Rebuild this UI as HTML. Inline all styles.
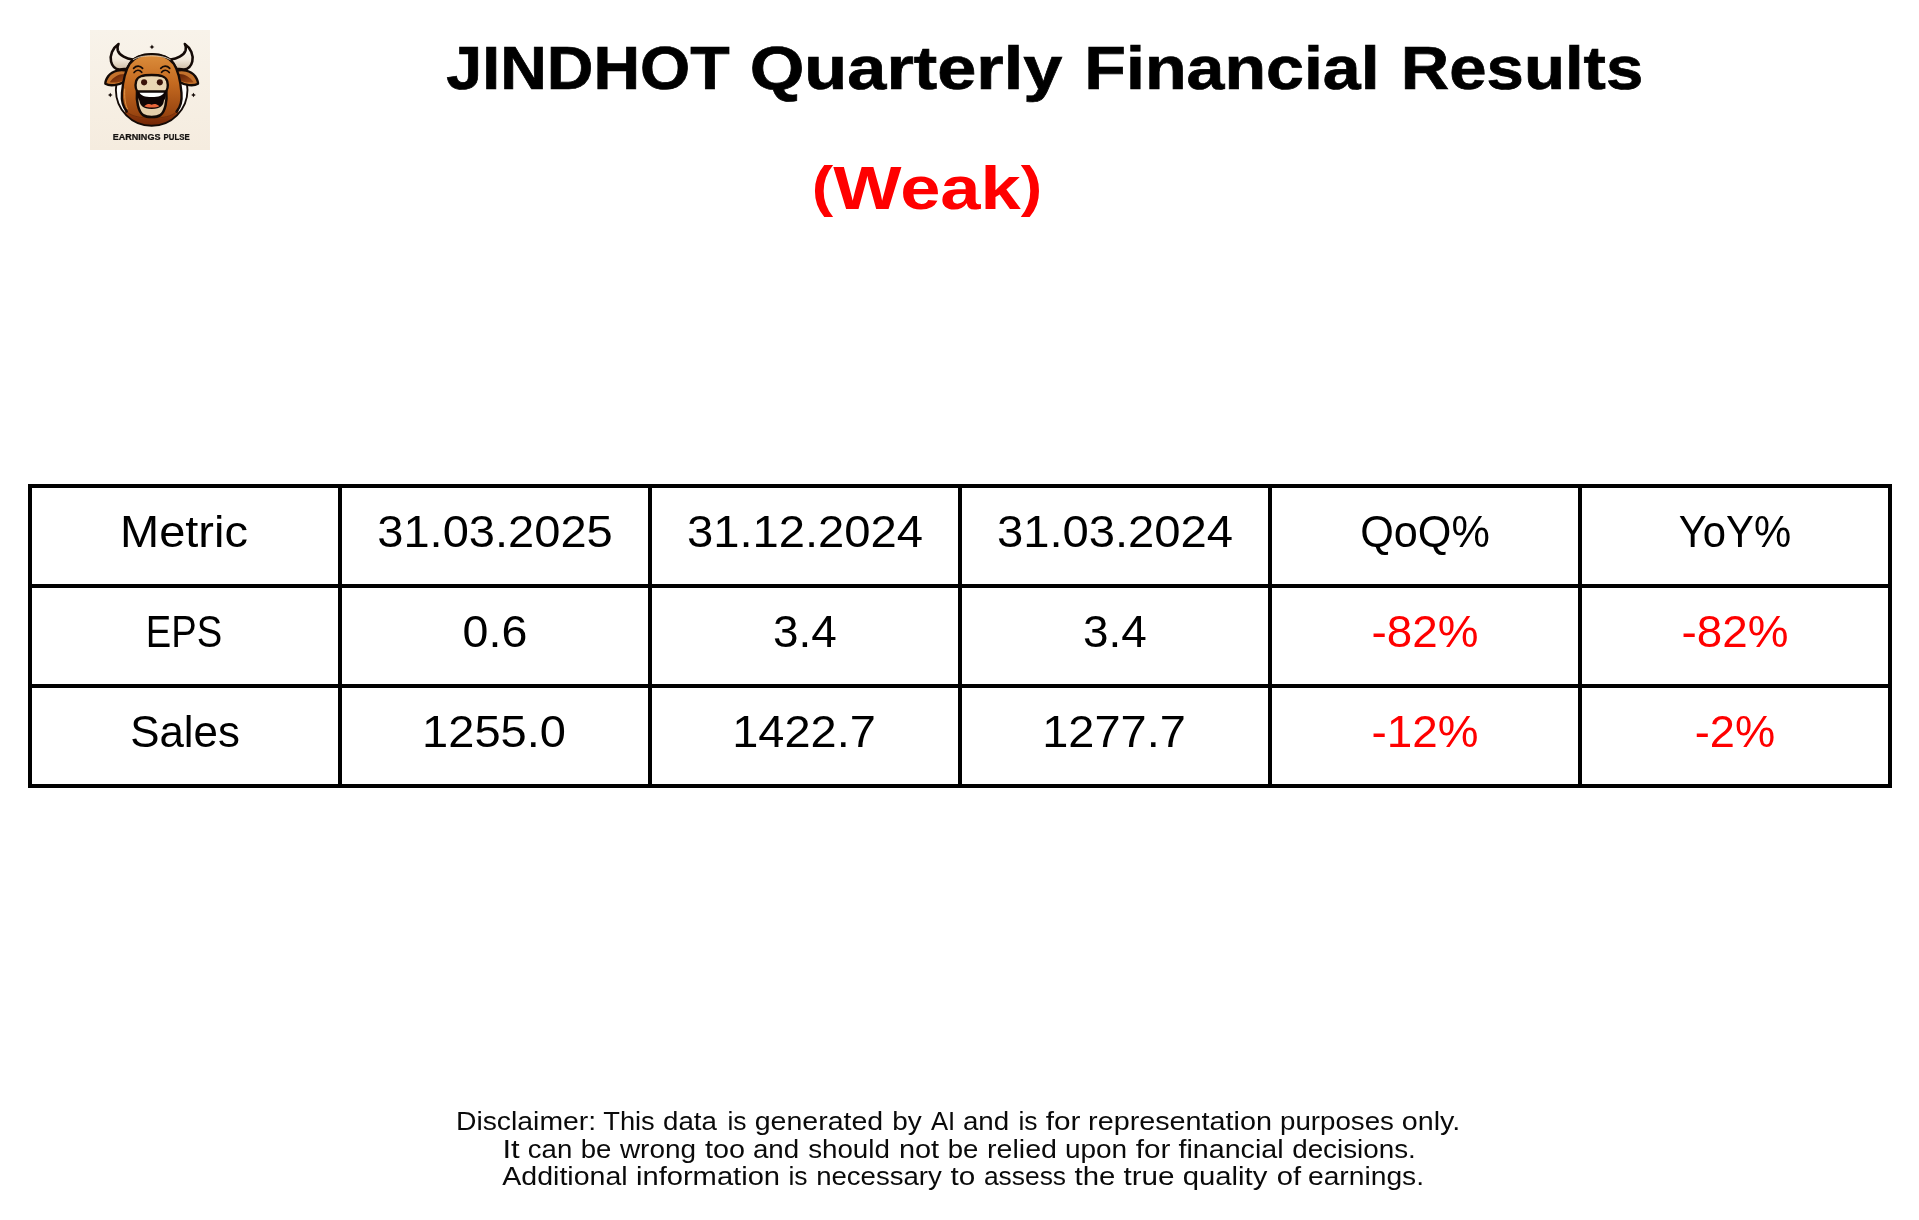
<!DOCTYPE html>
<html>
<head>
<meta charset="utf-8">
<title>JINDHOT Quarterly Financial Results</title>
<style>
html,body{margin:0;padding:0;background:#fff;}
body{width:1919px;height:1220px;position:relative;overflow:hidden;font-family:"Liberation Sans",sans-serif;color:#000;}
.t{position:absolute;white-space:nowrap;line-height:1;}
.b{font-weight:bold;}
.r{color:#ff0000;}
.tw{-webkit-text-stroke:0.7px #000;}
.dw{color:#0a0a0a;}
.pa{font-size:0.89em;position:relative;top:-4.5px;}
</style>
</head>
<body>
<svg id="logo" width="120" height="120" viewBox="0 0 1220 1220" style="position:absolute;left:90px;top:30px;transform:translateZ(0)">
<defs>
<linearGradient id="bg" x1="0" y1="0" x2="0" y2="1"><stop offset="0" stop-color="#f8f3ea"/><stop offset="1" stop-color="#f5ecdf"/></linearGradient>
<linearGradient id="fur" x1="0" y1="0" x2="0" y2="1"><stop offset="0" stop-color="#dc8e3c"/><stop offset="0.45" stop-color="#c46a20"/><stop offset="1" stop-color="#93400e"/></linearGradient>
<linearGradient id="neck" x1="0" y1="0" x2="0" y2="1"><stop offset="0" stop-color="#a84c12"/><stop offset="1" stop-color="#6c2206"/></linearGradient>
<linearGradient id="horn" x1="0" y1="0" x2="0" y2="1"><stop offset="0" stop-color="#fffdf8"/><stop offset="0.6" stop-color="#f3eadc"/><stop offset="1" stop-color="#cdbba3"/></linearGradient>
<linearGradient id="earin" x1="0" y1="0" x2="1" y2="1"><stop offset="0" stop-color="#5a1e06"/><stop offset="1" stop-color="#a44c14"/></linearGradient>
<clipPath id="ringclip"><circle cx="627" cy="610" r="364"/></clipPath>
</defs>
<rect width="1220" height="1220" fill="url(#bg)"/>
<circle cx="627" cy="610" r="364" fill="#fefdfb"/>
<path d="M345 735 L372 1000 L882 1000 L909 735 Z" fill="url(#neck)" clip-path="url(#ringclip)"/>
<circle cx="627" cy="610" r="364" fill="none" stroke="#140a06" stroke-width="19"/>
<!-- horns -->
<path d="M290 142 C 229 182, 199 260, 214 320 C 226 370, 259 398, 299 402 L 374 395 L 434 300 C 374 292, 299 262, 282 207 C 276 182, 279 162, 290 142 Z" fill="url(#horn)" stroke="#140a06" stroke-width="26" stroke-linejoin="round"/>
<path d="M964 142 C 1025 182, 1055 260, 1040 320 C 1028 370, 995 398, 955 402 L 880 395 L 820 300 C 880 292, 955 262, 972 207 C 978 182, 975 162, 964 142 Z" fill="url(#horn)" stroke="#140a06" stroke-width="26" stroke-linejoin="round"/>
<!-- ears -->
<path d="M385 420 C 320 395, 230 410, 185 470 C 165 500, 155 530, 156 547 C 200 572, 290 565, 360 522 Z" fill="#c4722c" stroke="#140a06" stroke-width="24" stroke-linejoin="round"/>
<path d="M368 448 C 300 440, 240 472, 200 532 C 262 542, 322 526, 364 498 Z" fill="url(#earin)"/>
<path d="M869 420 C 934 395, 1024 410, 1069 470 C 1089 500, 1099 530, 1098 547 C 1054 572, 964 565, 894 522 Z" fill="#c4722c" stroke="#140a06" stroke-width="24" stroke-linejoin="round"/>
<path d="M886 448 C 954 440, 1014 472, 1054 532 C 992 542, 932 526, 890 498 Z" fill="url(#earin)"/>
<!-- head -->
<path d="M627 247 C 730 247, 800 270, 850 340 C 895 410, 920 520, 930 640 C 937 720, 915 790, 880 830 C 820 895, 720 900, 627 900 C 535 900, 435 895, 375 830 C 340 790, 318 720, 325 640 C 335 520, 360 410, 405 340 C 455 270, 525 247, 627 247 Z" fill="url(#fur)"/>
<path d="M375 830 C 340 790, 318 720, 325 640 C 335 520, 360 410, 405 340 C 455 270, 525 247, 627 247 C 730 247, 800 270, 850 340 C 895 410, 920 520, 930 640 C 937 720, 915 790, 880 830" fill="none" stroke="#140a06" stroke-width="24" stroke-linecap="round"/>
<path d="M375 830 C 420 880, 520 895, 627 898 C 735 895, 835 880, 880 830" fill="none" stroke="#6a2a0a" stroke-width="8"/>
<path d="M440 300 C 500 268, 560 262, 627 262 C 700 262, 760 270, 815 300" fill="none" stroke="#fbe9d0" stroke-width="10" stroke-linecap="round" opacity="0.8"/>
<path d="M352 600 C 350 700, 360 760, 380 800" fill="none" stroke="#f0b060" stroke-width="10" stroke-linecap="round" opacity="0.7"/>
<!-- eyes -->
<path d="M443 390 C 470 360, 510 360, 535 390" fill="none" stroke="#140a06" stroke-width="17" stroke-linecap="round"/>
<path d="M448 432 C 470 402, 505 402, 526 430" fill="none" stroke="#140a06" stroke-width="17" stroke-linecap="round"/>
<path d="M811 390 C 784 360, 744 360, 719 390" fill="none" stroke="#140a06" stroke-width="17" stroke-linecap="round"/>
<path d="M806 432 C 784 402, 749 402, 728 430" fill="none" stroke="#140a06" stroke-width="17" stroke-linecap="round"/>
<!-- muzzle -->
<path d="M627 458 C 720 458, 770 470, 785 520 C 795 560, 790 610, 760 640 L 494 640 C 464 610, 459 560, 469 520 C 484 470, 534 458, 627 458 Z" fill="#ead6b3" stroke="#140a06" stroke-width="24"/>
<circle cx="550" cy="532" r="31" fill="#3a1208"/>
<circle cx="710" cy="532" r="31" fill="#3a1208"/>
<!-- mouth -->
<path d="M478 625 C 470 720, 490 830, 540 865 C 580 892, 675 892, 715 865 C 765 830, 785 720, 776 625 Z" fill="#e6d0ac" stroke="#140a06" stroke-width="26" stroke-linejoin="round"/>
<path d="M482 630 L 772 630 C 770 680, 765 700, 752 718 C 745 770, 720 802, 627 804 C 535 802, 510 770, 502 718 C 490 700, 484 680, 482 630 Z" fill="#0e0404"/>
<path d="M504 638 L 752 638 C 738 666, 700 682, 627 682 C 555 682, 517 666, 504 638 Z" fill="#ffffff"/>
<path d="M551 775 C 580 748, 610 750, 627 760 C 645 750, 675 748, 706 775 C 676 792, 582 792, 551 775 Z" fill="#e8653a"/>
<!-- sparkles -->
<path d="M630 148 L 639 164 L 655 172 L 639 180 L 630 196 L 621 180 L 605 172 L 621 164 Z" fill="#140a06"/>
<path d="M206 638 L 215 653 L 230 661 L 215 669 L 206 684 L 197 669 L 182 661 L 197 653 Z" fill="#140a06"/>
<path d="M1052 638 L 1061 653 L 1076 661 L 1061 669 L 1052 684 L 1043 669 L 1028 661 L 1043 653 Z" fill="#140a06"/>
<text x="232" y="1116" font-family="Liberation Sans" font-weight="bold" font-size="93" fill="#141210" stroke="#141210" stroke-width="2.5" textLength="484" lengthAdjust="spacingAndGlyphs">EARNINGS</text>
<text x="748" y="1116" font-family="Liberation Sans" font-weight="bold" font-size="93" fill="#141210" stroke="#141210" stroke-width="2.5" textLength="266" lengthAdjust="spacingAndGlyphs">PULSE</text>
</svg>

<svg width="1919" height="1220" style="position:absolute;left:0;top:0">
<g fill="#000">
<rect x="28" y="484" width="1864" height="4"/>
<rect x="28" y="584" width="1864" height="4"/>
<rect x="28" y="684" width="1864" height="4"/>
<rect x="28" y="784" width="1864" height="4"/>
<rect x="28" y="484" width="4" height="304"/>
<rect x="338" y="484" width="4" height="304"/>
<rect x="648" y="484" width="4" height="304"/>
<rect x="958" y="484" width="4" height="304"/>
<rect x="1268" y="484" width="4" height="304"/>
<rect x="1578" y="484" width="4" height="304"/>
<rect x="1888" y="484" width="4" height="304"/>
</g>
</svg>
<div id="c00" class="t" style="left:183.69px;top:509.62px;font-size:44.15px;transform:translateX(-50%) scaleX(1.0647)">Metric</div>
<div id="c01" class="t" style="left:495.09px;top:509.62px;font-size:44.15px;transform:translateX(-50%) scaleX(1.0659)">31.03.2025</div>
<div id="c02" class="t" style="left:804.79px;top:509.62px;font-size:44.15px;transform:translateX(-50%) scaleX(1.0691)">31.12.2024</div>
<div id="c03" class="t" style="left:1114.79px;top:509.62px;font-size:44.15px;transform:translateX(-50%) scaleX(1.0691)">31.03.2024</div>
<div id="c04" class="t" style="left:1424.75px;top:509.62px;font-size:44.15px;transform:translateX(-50%) scaleX(0.9783)">QoQ%</div>
<div id="c05" class="t" style="left:1735.29px;top:509.62px;font-size:44.15px;transform:translateX(-50%) scaleX(0.9468)">YoY%</div>
<div id="c10" class="t" style="left:184.31px;top:609.62px;font-size:44.15px;transform:translateX(-50%) scaleX(0.8645)">EPS</div>
<div id="c11" class="t" style="left:495.11px;top:609.62px;font-size:44.15px;transform:translateX(-50%) scaleX(1.0551)">0.6</div>
<div id="c12" class="t" style="left:804.80px;top:609.62px;font-size:44.15px;transform:translateX(-50%) scaleX(1.0402)">3.4</div>
<div id="c13" class="t" style="left:1114.80px;top:609.62px;font-size:44.15px;transform:translateX(-50%) scaleX(1.0402)">3.4</div>
<div id="c14" class="t r" style="left:1424.80px;top:609.62px;font-size:44.15px;transform:translateX(-50%) scaleX(1.0380)">-82%</div>
<div id="c15" class="t r" style="left:1734.80px;top:609.62px;font-size:44.15px;transform:translateX(-50%) scaleX(1.0380)">-82%</div>
<div id="c20" class="t" style="left:184.80px;top:709.62px;font-size:44.15px;transform:translateX(-50%) scaleX(0.9933)">Sales</div>
<div id="c21" class="t" style="left:494.13px;top:709.62px;font-size:44.15px;transform:translateX(-50%) scaleX(1.0654)">1255.0</div>
<div id="c22" class="t" style="left:804.39px;top:709.62px;font-size:44.15px;transform:translateX(-50%) scaleX(1.0633)">1422.7</div>
<div id="c23" class="t" style="left:1114.39px;top:709.62px;font-size:44.15px;transform:translateX(-50%) scaleX(1.0633)">1277.7</div>
<div id="c24" class="t r" style="left:1424.80px;top:709.62px;font-size:44.15px;transform:translateX(-50%) scaleX(1.0380)">-12%</div>
<div id="c25" class="t r" style="left:1734.80px;top:709.62px;font-size:44.15px;transform:translateX(-50%) scaleX(1.0243)">-2%</div>
<div id="titlew0" class="t b tw" style="left:588.36px;top:37.47px;font-size:61.81px;transform:translateX(-50%) scaleX(1.0449)">JINDHOT</div>
<div id="titlew1" class="t b tw" style="left:906.44px;top:37.47px;font-size:61.81px;transform:translateX(-50%) scaleX(1.1381)">Quarterly</div>
<div id="titlew2" class="t b tw" style="left:1232.28px;top:37.47px;font-size:61.81px;transform:translateX(-50%) scaleX(1.1023)">Financial</div>
<div id="titlew3" class="t b tw" style="left:1522.42px;top:37.47px;font-size:61.81px;transform:translateX(-50%) scaleX(1.0859)">Results</div>
<div id="sub" class="t b r" style="left:926.70px;top:157.27px;font-size:61.81px;transform:translateX(-50%) scaleX(1.1699)"><span class="pa">(</span>Weak<span class="pa">)</span></div>
<div id="d0w0" class="t dw" style="left:525.53px;top:1108.27px;font-size:26.49px;transform:translateX(-50%) scaleX(1.0700)">Disclaimer:</div>
<div id="d0w1" class="t dw" style="left:628.75px;top:1108.27px;font-size:26.49px;transform:translateX(-50%) scaleX(1.0298)">This</div>
<div id="d0w2" class="t dw" style="left:689.83px;top:1108.27px;font-size:26.49px;transform:translateX(-50%) scaleX(1.0439)">data</div>
<div id="d0w3" class="t dw" style="left:737.10px;top:1108.27px;font-size:26.49px;transform:translateX(-50%) scaleX(0.9996)">is</div>
<div id="d0w4" class="t dw" style="left:819.31px;top:1108.27px;font-size:26.49px;transform:translateX(-50%) scaleX(1.0771)">generated</div>
<div id="d0w5" class="t dw" style="left:907.17px;top:1108.27px;font-size:26.49px;transform:translateX(-50%) scaleX(1.0546)">by</div>
<div id="d0w6" class="t dw" style="left:942.83px;top:1108.27px;font-size:26.49px;transform:translateX(-50%) scaleX(0.9687)">AI</div>
<div id="d0w7" class="t dw" style="left:986.42px;top:1108.27px;font-size:26.49px;transform:translateX(-50%) scaleX(1.0458)">and</div>
<div id="d0w8" class="t dw" style="left:1028.11px;top:1108.27px;font-size:26.49px;transform:translateX(-50%) scaleX(0.9996)">is</div>
<div id="d0w9" class="t dw" style="left:1063.39px;top:1108.27px;font-size:26.49px;transform:translateX(-50%) scaleX(1.1230)">for</div>
<div id="d0w10" class="t dw" style="left:1179.93px;top:1108.27px;font-size:26.49px;transform:translateX(-50%) scaleX(1.0855)">representation</div>
<div id="d0w11" class="t dw" style="left:1336.92px;top:1108.27px;font-size:26.49px;transform:translateX(-50%) scaleX(1.0450)">purposes</div>
<div id="d0w12" class="t dw" style="left:1430.71px;top:1108.27px;font-size:26.49px;transform:translateX(-50%) scaleX(1.0825)">only.</div>
<div id="d1w0" class="t dw" style="left:510.53px;top:1136.07px;font-size:26.49px;transform:translateX(-50%) scaleX(1.1691)">It</div>
<div id="d1w1" class="t dw" style="left:549.84px;top:1136.07px;font-size:26.49px;transform:translateX(-50%) scaleX(1.0387)">can</div>
<div id="d1w2" class="t dw" style="left:596.13px;top:1136.07px;font-size:26.49px;transform:translateX(-50%) scaleX(1.0402)">be</div>
<div id="d1w3" class="t dw" style="left:658.41px;top:1136.07px;font-size:26.49px;transform:translateX(-50%) scaleX(1.0558)">wrong</div>
<div id="d1w4" class="t dw" style="left:724.87px;top:1136.07px;font-size:26.49px;transform:translateX(-50%) scaleX(1.0862)">too</div>
<div id="d1w5" class="t dw" style="left:776.41px;top:1136.07px;font-size:26.49px;transform:translateX(-50%) scaleX(1.0458)">and</div>
<div id="d1w6" class="t dw" style="left:849.42px;top:1136.07px;font-size:26.49px;transform:translateX(-50%) scaleX(1.0474)">should</div>
<div id="d1w7" class="t dw" style="left:919.18px;top:1136.07px;font-size:26.49px;transform:translateX(-50%) scaleX(1.0918)">not</div>
<div id="d1w8" class="t dw" style="left:963.44px;top:1136.07px;font-size:26.49px;transform:translateX(-50%) scaleX(1.0402)">be</div>
<div id="d1w9" class="t dw" style="left:1021.91px;top:1136.07px;font-size:26.49px;transform:translateX(-50%) scaleX(1.0805)">relied</div>
<div id="d1w10" class="t dw" style="left:1096.44px;top:1136.07px;font-size:26.49px;transform:translateX(-50%) scaleX(1.0562)">upon</div>
<div id="d1w11" class="t dw" style="left:1153.32px;top:1136.07px;font-size:26.49px;transform:translateX(-50%) scaleX(1.1230)">for</div>
<div id="d1w12" class="t dw" style="left:1230.86px;top:1136.07px;font-size:26.49px;transform:translateX(-50%) scaleX(1.0816)">financial</div>
<div id="d1w13" class="t dw" style="left:1353.83px;top:1136.07px;font-size:26.49px;transform:translateX(-50%) scaleX(1.0497)">decisions.</div>
<div id="d2w0" class="t dw" style="left:565.05px;top:1163.37px;font-size:26.49px;transform:translateX(-50%) scaleX(1.0775)">Additional</div>
<div id="d2w1" class="t dw" style="left:708.13px;top:1163.37px;font-size:26.49px;transform:translateX(-50%) scaleX(1.0995)">information</div>
<div id="d2w2" class="t dw" style="left:798.28px;top:1163.37px;font-size:26.49px;transform:translateX(-50%) scaleX(0.9996)">is</div>
<div id="d2w3" class="t dw" style="left:879.32px;top:1163.37px;font-size:26.49px;transform:translateX(-50%) scaleX(1.0408)">necessary</div>
<div id="d2w4" class="t dw" style="left:963.39px;top:1163.37px;font-size:26.49px;transform:translateX(-50%) scaleX(1.1205)">to</div>
<div id="d2w5" class="t dw" style="left:1025.29px;top:1163.37px;font-size:26.49px;transform:translateX(-50%) scaleX(0.9965)">assess</div>
<div id="d2w6" class="t dw" style="left:1095.19px;top:1163.37px;font-size:26.49px;transform:translateX(-50%) scaleX(1.1072)">the</div>
<div id="d2w7" class="t dw" style="left:1149.31px;top:1163.37px;font-size:26.49px;transform:translateX(-50%) scaleX(1.1188)">true</div>
<div id="d2w8" class="t dw" style="left:1225.30px;top:1163.37px;font-size:26.49px;transform:translateX(-50%) scaleX(1.1059)">quality</div>
<div id="d2w9" class="t dw" style="left:1288.62px;top:1163.37px;font-size:26.49px;transform:translateX(-50%) scaleX(1.1035)">of</div>
<div id="d2w10" class="t dw" style="left:1366.36px;top:1163.37px;font-size:26.49px;transform:translateX(-50%) scaleX(1.0659)">earnings.</div>
</body>
</html>
